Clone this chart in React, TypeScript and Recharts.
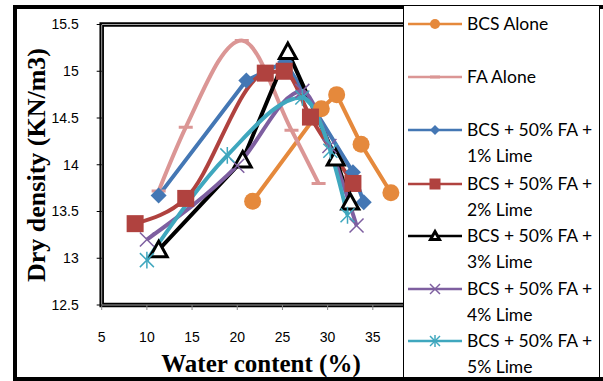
import React from 'react';
import { LineChart, Line, XAxis, YAxis, ReferenceArea } from 'recharts';

// values: water content (%) vs dry density (KN/m3)
const bcsWater = [21.7, 29.3, 31, 33.7, 37];
const bcsDensity = [13.61, 14.6, 14.75, 14.22, 13.7];
const faWater = [11.3, 14.3, 20.5, 26, 29];
const faDensity = [13.72, 14.4, 15.33, 14.37, 13.8];
const lime1Water = [11.3, 21, 25.3, 32.8, 34];
const lime1Density = [13.67, 14.9, 15.1, 13.92, 13.6];
const lime2Water = [8.7, 14.3, 23.1, 25.2, 28.1, 32.8];
const lime2Density = [13.37, 13.64, 14.98, 15.0, 14.51, 13.8];
const lime3Water = [11.3, 20.6, 25.6, 30.9, 32.5];
const lime3Density = [13.09, 14.05, 15.21, 14.07, 13.6];
const lime4Water = [10, 20, 27.2, 30.2, 33.2];
const lime4Density = [13.2, 13.99, 14.79, 14.2, 13.35];
const lime5Water = [10, 18.9, 27.2, 30.3, 32.2];
const lime5Density = [12.98, 14.1, 14.72, 14.15, 13.46];

const xTicks = [5, 10, 15, 20, 25, 30, 35];
const yTicks = [12.5, 13, 13.5, 14, 14.5, 15, 15.5];

const toPoints = (xs: number[], ys: number[]) => xs.map((x, i) => ({ x, y: ys[i] }));

type Shape = 'circle' | 'dash' | 'diamond' | 'square' | 'triangle' | 'cross' | 'star';

const Marker = ({ shape, cx, cy, color, s }: { shape: Shape; cx: number; cy: number; color: string; s: number }) => {
  switch (shape) {
    case 'circle':
      return <circle cx={cx} cy={cy} r={s} fill={color} />;
    case 'dash':
      return <line x1={cx - s} y1={cy} x2={cx + s} y2={cy} stroke={color} strokeWidth={3} />;
    case 'diamond':
      return <polygon points={`${cx},${cy - s} ${cx + s},${cy} ${cx},${cy + s} ${cx - s},${cy}`} fill={color} />;
    case 'square':
      return <rect x={cx - s} y={cy - s} width={2 * s} height={2 * s} fill={color} />;
    case 'triangle':
      return (
        <polygon
          points={`${cx},${cy - s} ${cx + s},${cy + s * 0.8} ${cx - s},${cy + s * 0.8}`}
          fill="#fff"
          stroke={color}
          strokeWidth={3}
        />
      );
    case 'cross':
      return (
        <g stroke={color} strokeWidth={1.5}>
          <line x1={cx - s} y1={cy - s} x2={cx + s} y2={cy + s} />
          <line x1={cx - s} y1={cy + s} x2={cx + s} y2={cy - s} />
        </g>
      );
    default:
      return (
        <g stroke={color} strokeWidth={1.5}>
          <line x1={cx - s} y1={cy - s} x2={cx + s} y2={cy + s} />
          <line x1={cx - s} y1={cy + s} x2={cx + s} y2={cy - s} />
          <line x1={cx} y1={cy - s * 1.2} x2={cx} y2={cy + s * 1.2} />
        </g>
      );
  }
};

const series = [
  { name: 'BCS Alone', data: toPoints(bcsWater, bcsDensity), color: '#E5893C', shape: 'circle' as Shape, size: 8.5, legendSize: 5, curve: 'linear' },
  { name: 'FA Alone', data: toPoints(faWater, faDensity), color: '#DB9695', shape: 'dash' as Shape, size: 7, legendSize: 5, curve: 'monotone' },
  { name: 'BCS + 50% FA +|1% Lime', data: toPoints(lime1Water, lime1Density), color: '#4477B4', shape: 'diamond' as Shape, size: 8, legendSize: 5, curve: 'linear' },
  { name: 'BCS + 50% FA +|2% Lime', data: toPoints(lime2Water, lime2Density), color: '#B0423F', shape: 'square' as Shape, size: 8.5, legendSize: 5.5, curve: 'monotone' },
  { name: 'BCS + 50% FA +|3% Lime', data: toPoints(lime3Water, lime3Density), color: '#000000', shape: 'triangle' as Shape, size: 8.5, legendSize: 4.5, curve: 'linear' },
  { name: 'BCS + 50% FA +|4% Lime', data: toPoints(lime4Water, lime4Density), color: '#7E5FA0', shape: 'cross' as Shape, size: 7, legendSize: 5, curve: 'monotone' },
  { name: 'BCS + 50% FA +|5% Lime', data: toPoints(lime5Water, lime5Density), color: '#3FA7BE', shape: 'star' as Shape, size: 7, legendSize: 5, curve: 'monotone' },
];

const legendRows = [23, 76, 129, 183, 235, 288, 340];

const LegendBox = () => (
  <div
    style={{
      position: 'absolute',
      left: 403,
      top: 5,
      width: 197,
      height: 373,
      background: '#fff',
      border: '1.5px solid #000',
      boxSizing: 'border-box',
    }}
  >
    <svg width={194} height={370} style={{ position: 'absolute', left: 0, top: 0 }}>
      {series.map((s, i) => {
        const cy = legendRows[i] - 5;
        const lines = s.name.split('|');
        return (
          <g key={s.name}>
            <line x1={4} y1={cy} x2={58} y2={cy} stroke={s.color} strokeWidth={2.5} />
            <Marker shape={s.shape} cx={31} cy={cy} color={s.color} s={s.legendSize} />
            {lines.map((t, j) => (
              <text
                key={t}
                x={63}
                y={cy + j * 26}
                dy="0.35em"
                fontFamily="Lato, sans-serif"
                fontSize={17.5}
                fill="#000"
              >
                {t}
              </text>
            ))}
          </g>
        );
      })}
    </svg>
  </div>
);

export default function App() {
  return (
    <div style={{ position: 'absolute', left: 0, top: 0, width: 603, height: 381, background: '#fff' }}>
      <div
        style={{
          position: 'absolute',
          left: 13,
          top: 5,
          width: 590,
          height: 376,
          border: '4px solid #000',
          borderRight: 'none',
          boxSizing: 'border-box',
        }}
      />
      <div style={{ position: 'absolute', left: 0, top: 0 }}>
        <LineChart width={603} height={381} margin={{ top: 24.5, right: 185, bottom: 16, left: 21.7 }}>
          <XAxis
            type="number"
            dataKey="x"
            domain={[5, 40]}
            ticks={xTicks}
            allowDataOverflow
            height={60}
            axisLine={false}
            tickLine={{ stroke: '#888' }}
            tickSize={5}
            tickMargin={22}
            tick={{ fill: '#000', fontSize: 14, fontFamily: 'Liberation Sans, sans-serif' }}
          />
          <YAxis
            type="number"
            dataKey="y"
            domain={[12.5, 15.5]}
            ticks={yTicks}
            allowDataOverflow
            width={80}
            axisLine={false}
            tickLine={{ stroke: '#000' }}
            tickSize={5}
            tickMargin={18}
            tick={{ fill: '#000', fontSize: 14, fontFamily: 'Liberation Sans, sans-serif' }}
          />
          <ReferenceArea x1={5} x2={40} y1={12.5} y2={15.5} fill="none" stroke="#000" strokeWidth={4.5} ifOverflow="visible" />
          <ReferenceArea x1={5} x2={40} y1={12.5} y2={15.5} fill="none" stroke="#ccc" strokeWidth={0.8} ifOverflow="visible" />
          {series.map((s) => (
            <Line
              key={s.name}
              data={s.data}
              dataKey="y"
              type={s.curve as 'linear' | 'monotone'}
              stroke={s.color}
              strokeWidth={4}
              isAnimationActive={false}
              dot={(p: any) => (
                <Marker key={`${s.name}-${p.index}`} shape={s.shape} cx={p.cx} cy={p.cy} color={s.color} s={s.size} />
              )}
              activeDot={false}
            />
          ))}
        </LineChart>
      </div>
      <div
        style={{
          position: 'absolute',
          left: 37,
          top: 165,
          transform: 'translate(-50%, -50%) rotate(-90deg)',
          fontFamily: 'Liberation Serif, serif',
          fontWeight: 'bold',
          fontSize: 26,
          lineHeight: '28px',
          whiteSpace: 'nowrap',
        }}
      >
        Dry density (KN/m3)
      </div>
      <div
        style={{
          position: 'absolute',
          left: 261,
          top: 364,
          transform: 'translate(-50%, -50%)',
          fontFamily: 'Liberation Serif, serif',
          fontWeight: 'bold',
          fontSize: 25,
          lineHeight: '24px',
          whiteSpace: 'nowrap',
        }}
      >
        Water content (%)
      </div>
      <LegendBox />
    </div>
  );
}
